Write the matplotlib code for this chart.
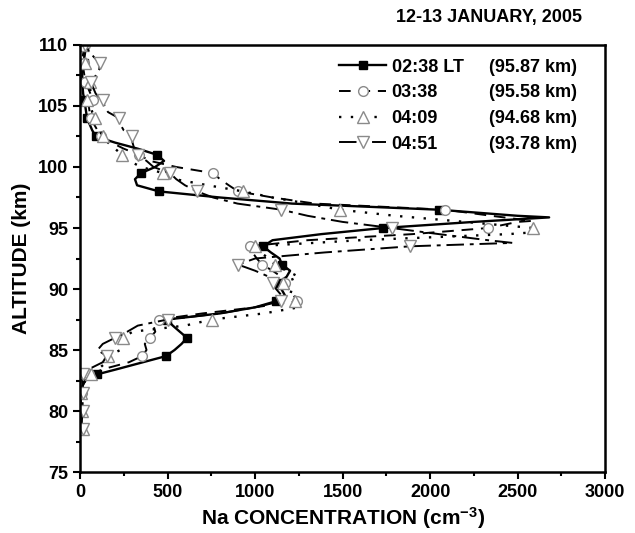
import numpy as np
from matplotlib import pyplot as plt
from matplotlib.ticker import MultipleLocator

plt.rcParams['font.family'] = ['Liberation Sans', 'DejaVu Sans']
plt.rcParams['font.weight'] = 'bold'
plt.rcParams['mathtext.fontset'] = 'custom'
plt.rcParams['mathtext.bf'] = 'Liberation Sans:bold'
plt.rcParams['mathtext.default'] = 'bf'

# altitude grid (km), 78.5 ... 110 in 0.5 km steps
alt = np.arange(78.5, 110.01, 0.5)

times = ['02:38 LT', '03:38', '04:09', '04:51']
peak_alt = [95.87, 95.58, 94.68, 93.78]
peak_val = [2680, 2580, 2620, 2470]

# Na density (cm^-3) on the grid, rows of 10 points
na_0238 = [8, 6, 5, 6, 5, 4, 8, 12, 30, 97,
           230, 360, 491, 540, 580, 611, 570, 530, 497, 800,
           1000, 1120, 1170, 1150, 1130, 1180, 1200, 1154, 1140, 1090,
           1046, 1100, 1380, 1731, 2250, 2500, 2050, 1211, 800, 451,
           326, 314, 349, 429, 480, 440, 330, 200, 91, 70,
           55, 40, 35, 30, 25, 18, 15, 17, 12, 10,
           20, 25, 30, 25]
na_0338 = [5, 4, 6, 5, 4, 6, 10, 15, 25, 50,
           150, 280, 354, 380, 370, 400, 430, 420, 451, 700,
           1000, 1240, 1220, 1190, 1171, 1150, 1100, 1040, 1010, 985,
           971, 1300, 1900, 2331, 2500, 2350, 2086, 1343, 1100, 903,
           850, 800, 760, 550, 400, 337, 250, 180, 120, 100,
           80, 60, 55, 50, 74, 60, 45, 30, 25, 20,
           20, 15, 20, 30]
na_0409 = [15, 10, 8, 10, 12, 10, 8, 15, 30, 60,
           110, 150, 160, 230, 240, 246, 300, 600, 754, 1050,
           1250, 1230, 1200, 1210, 1160, 1250, 1180, 1114, 1080, 1030,
           1000, 1600, 2450, 2589, 2200, 1800, 1486, 1300, 1100, 931,
           731, 543, 474, 350, 280, 240, 200, 160, 131, 110,
           95, 86, 70, 60, 40, 60, 58, 57, 40, 35,
           29, 20, 25, 15]
na_0451 = [15, 10, 12, 15, 14, 17, 17, 15, 12, 17,
           60, 130, 154, 100, 130, 200, 270, 330, 500, 800,
           1000, 1150, 1150, 1120, 1100, 1080, 1000, 903, 1000, 1400,
           1886, 2330, 2050, 1780, 1500, 1300, 1150, 900, 760, 669,
           600, 550, 514, 420, 380, 330, 310, 300, 297, 250,
           230, 223, 160, 140, 131, 90, 75, 63, 90, 110,
           114, 80, 50, 30]
series = [na_0238, na_0338, na_0409, na_0451]

styles = [
    dict(ls='-', lw=1.7, marker='s', ms=6, mfc='black', mec='black'),
    dict(ls=(0, (6, 4)), lw=1.4, marker='o', ms=7, mfc='white', mec='#8a8a8a'),
    dict(ls=(0, (1, 4)), lw=1.7, marker='^', ms=9, mfc='white', mec='#8a8a8a'),
    dict(ls=(0, (9, 3, 2, 3)), lw=1.4, marker='v', ms=9, mfc='white', mec='#8a8a8a'),
]

fig = plt.figure(figsize=(6.35, 5.33), dpi=100)
ax = fig.add_axes([0.126, 0.1144, 0.827, 0.8012])

for vals, pa, pv, lab, st in zip(series, peak_alt, peak_val, times, styles):
    a = np.array(alt)
    v = np.array(vals, dtype=float)
    k = np.searchsorted(a, pa)
    a = np.insert(a, k, pa)
    v = np.insert(v, k, pv)
    # markers every 1.5 km (78.5, 80, 81.5, ...)
    r = np.mod(a - 78.5, 1.5)
    mask = (np.isclose(r, 0) | np.isclose(r, 1.5)) & np.isclose(np.mod(a * 2, 1), 0)
    ax.plot(v, a, color='black', markevery=list(mask), label=lab, mew=1.0, **st)

ax.set_xlim(0, 3000)
ax.set_ylim(75, 110)
ax.xaxis.set_major_locator(MultipleLocator(500))
ax.xaxis.set_minor_locator(MultipleLocator(250))
ax.yaxis.set_major_locator(MultipleLocator(5))
ax.yaxis.set_minor_locator(MultipleLocator(2.5))
ax.tick_params(which='both', direction='out', width=1.5, labelsize=13, top=False, right=False)
ax.tick_params(which='major', length=5)
ax.tick_params(which='minor', length=3)
for s in ax.spines.values():
    s.set_linewidth(1.8)

ax.set_xlabel(r'Na CONCENTRATION (cm$^{-3}$)', fontsize=15, fontweight='bold', labelpad=3)
ax.set_ylabel('ALTITUDE (km)', fontsize=15, fontweight='bold', labelpad=5)
fig.text(0.917, 0.968, '12-13 JANUARY, 2005', ha='right', va='center', fontsize=13, fontweight='bold')

leg = ax.legend(loc='upper left', bbox_to_anchor=(0.48, 0.985), frameon=False, fontsize=13,
                handlelength=2.6, handletextpad=0.3, labelspacing=0.48, borderaxespad=0)
fig.canvas.draw()
inv = ax.transAxes.inverted()
for t, pa in zip(leg.get_texts(), peak_alt):
    bb = t.get_window_extent()
    yc = inv.transform(((bb.x0 + bb.x1) / 2, (bb.y0 + bb.y1) / 2))[1]
    ax.text(0.779, yc, '(%.2f km)' % pa, transform=ax.transAxes, va='center', ha='left',
            fontsize=13, fontweight='bold')

fig.savefig('out.png', dpi=100)
